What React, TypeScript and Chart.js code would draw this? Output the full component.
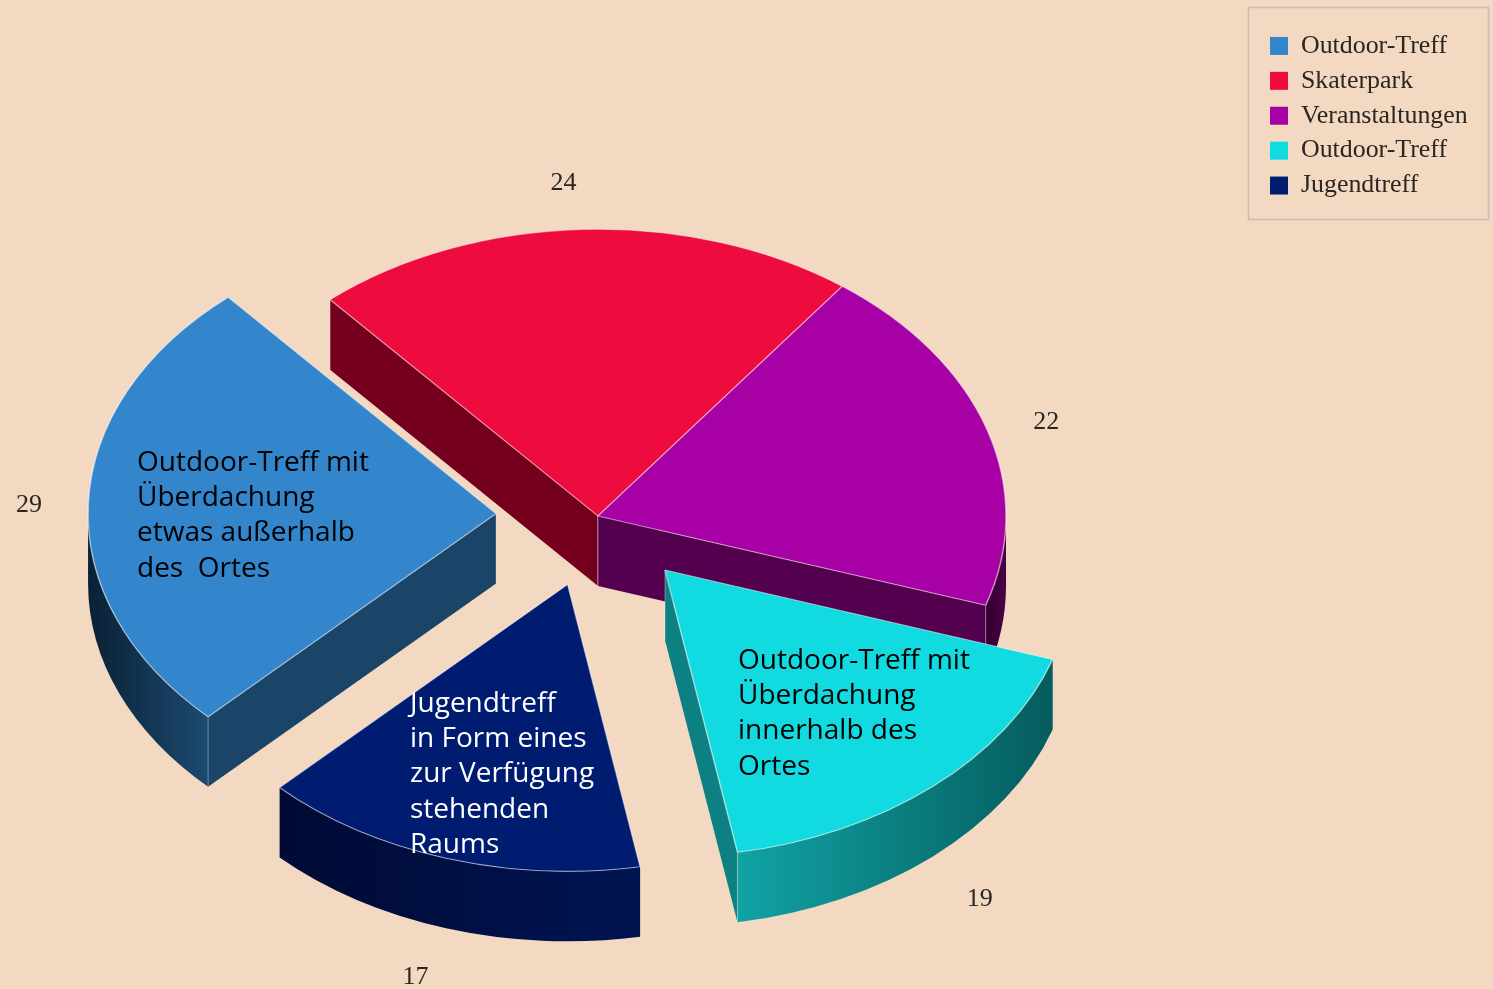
import React, { useEffect, useRef } from "react";
import { Chart, ArcElement, registerables } from "chart.js";

Chart.register(...registerables);

const categories = ["Outdoor-Treff", "Skaterpark", "Veranstaltungen", "Outdoor-Treff", "Jugendtreff"];
const values = [29, 24, 22, 19, 17];
const topColors = ["#3385cc", "#ee0c3e", "#a700a4", "#11dae0", "#001c70"];
const cutColors = ["#1a4468", "#75001d", "#53004f", "#0c8082", "#000f44"];
const wallLeft = ["#0a2135", "#75001d", "#33002f", "#11a3a5", "#000a35"];
const wallRight = ["#1b4a70", "#75001d", "#4b0048", "#055c5d", "#001452"];
const explode = [102, 0, 0, 102, 102];
const calloutBlue = ["Outdoor-Treff mit", "Überdachung", "etwas außerhalb", "des  Ortes"];
const calloutCyan = ["Outdoor-Treff mit", "Überdachung", "innerhalb des", "Ortes"];
const calloutNavy = ["Jugendtreff", "in Form eines", "zur Verfügung", "stehenden", "Raums"];

const W = 1493;
const H = 989;
const BG = "#f3d8c2";
const RADIUS = 408;
const K = 0.703;
const SCREEN_CY = 516;
const DEPTH = 70;
const INNER_FONT = '28px "Open Sans"';
const SERIF = '"Liberation Serif"';

const applyTilt = (chart: any, ctx: CanvasRenderingContext2D) => {
  const cy = (chart.chartArea.top + chart.chartArea.bottom) / 2;
  ctx.translate(0, SCREEN_CY);
  ctx.scale(1, K);
  ctx.translate(0, -cy);
};

const pie3d = {
  id: "pie3d",
  afterDatasetsUpdate(chart: any) {
    // pull exploded slices out along their mid-angle without altering their radius
    chart.getDatasetMeta(0).data.forEach((arc: any, i: number) => {
      arc.draw = function (ctx: CanvasRenderingContext2D) {
        const half = (this.startAngle + this.endAngle) / 2;
        ctx.save();
        ctx.translate(Math.cos(half) * explode[i], Math.sin(half) * explode[i]);
        ArcElement.prototype.draw.call(this, ctx);
        ctx.restore();
      };
    });
  },
  beforeDraw(chart: any) {
    const lg = chart.legend;
    lg.left = 1261;
    lg.top = 24;
    lg.right = W;
    lg.bottom = 219;
  },
  beforeDatasetsDraw(chart: any) {
    const ctx: CanvasRenderingContext2D = chart.ctx;
    ctx.save();
    applyTilt(chart, ctx);
    const d = DEPTH / K;
    const arcs = chart.getDatasetMeta(0).data;
    const order = [1, 2, 0, 4, 3];
    for (const i of order) {
      const a = arcs[i];
      const half = (a.startAngle + a.endAngle) / 2;
      const ox = a.x + Math.cos(half) * explode[i];
      const oy = a.y + Math.sin(half) * explode[i];
      const edges: [number, boolean][] = [
        [a.startAngle, Math.cos(a.startAngle) < 0],
        [a.endAngle, Math.cos(a.endAngle) > 0],
      ];
      for (const [ang, visible] of edges) {
        if (!visible) continue;
        const rx = ox + Math.cos(ang) * RADIUS;
        const ry = oy + Math.sin(ang) * RADIUS;
        ctx.beginPath();
        ctx.moveTo(ox, oy);
        ctx.lineTo(rx, ry);
        ctx.lineTo(rx, ry + d);
        ctx.lineTo(ox, oy + d);
        ctx.closePath();
        ctx.fillStyle = cutColors[i];
        ctx.fill();
      }
      // outer rim: only the part of the arc facing the viewer
      const twoPi = Math.PI * 2;
      let s = a.startAngle;
      let e = a.endAngle;
      while (s < -1e-6 && e < -1e-6) { s += twoPi; e += twoPi; }
      const from = Math.max(s, 0);
      const to = Math.min(e, Math.PI);
      if (to > from) {
        const x0 = ox + Math.cos(from) * RADIUS;
        const x1 = ox + Math.cos(to) * RADIUS;
        const g = ctx.createLinearGradient(Math.min(x0, x1), 0, Math.max(x0, x1), 0);
        g.addColorStop(0, wallLeft[i]);
        g.addColorStop(1, wallRight[i]);
        ctx.beginPath();
        ctx.arc(ox, oy, RADIUS, from, to);
        ctx.arc(ox, oy + d, RADIUS, to, from, true);
        ctx.closePath();
        ctx.fillStyle = g;
        ctx.fill();
      }
      for (const [ang, visible] of edges) {
        if (!visible) continue;
        ctx.beginPath();
        for (const [px, py] of [
          [ox + Math.cos(ang) * RADIUS, oy + Math.sin(ang) * RADIUS],
          [ox, oy],
        ]) {
          ctx.moveTo(px, py);
          ctx.lineTo(px, py + d);
        }
        ctx.strokeStyle = "rgba(255,255,255,0.28)";
        ctx.lineWidth = 1.2;
        ctx.stroke();
      }
    }
  },
  afterDatasetsDraw(chart: any) {
    chart.ctx.restore();
  },
  afterDraw(chart: any) {
    const ctx: CanvasRenderingContext2D = chart.ctx;
    ctx.save();
    // legend frame
    ctx.strokeStyle = "#c8bdb3";
    ctx.lineWidth = 1.5;
    ctx.strokeRect(1248.5, 7.5, 240, 212);
    // value labels outside each slice
    const cy = (chart.chartArea.top + chart.chartArea.bottom) / 2;
    const nudge = [[6, 3], [-17, 0], [-3, 6], [4, 8], [-11, 5]];
    ctx.font = `26px ${SERIF}`;
    ctx.fillStyle = "#2b2622";
    ctx.textAlign = "center";
    ctx.textBaseline = "middle";
    chart.getDatasetMeta(0).data.forEach((a: any, i: number) => {
      const half = (a.startAngle + a.endAngle) / 2;
      const ox = a.x + Math.cos(half) * explode[i];
      const oy = a.y + Math.sin(half) * explode[i];
      const r = RADIUS * 1.16;
      const x = ox + Math.cos(half) * r;
      const y = SCREEN_CY + K * (oy + Math.sin(half) * r - cy) + (Math.sin(half) > 0.5 ? DEPTH : 0);
      ctx.fillText(String(values[i]), x + nudge[i][0], y + nudge[i][1]);
    });
    // callouts inside the slices
    ctx.font = INNER_FONT;
    ctx.textAlign = "left";
    ctx.textBaseline = "alphabetic";
    const callouts: [string[], number, number, string][] = [
      [calloutBlue, 137, 471, "#000"],
      [calloutCyan, 738, 669, "#000"],
      [calloutNavy, 410, 712, "#fff"],
    ];
    for (const [lines, x, y, col] of callouts) {
      ctx.fillStyle = col;
      lines.forEach((t, n) => ctx.fillText(t, x, y + n * 35.2));
    }
    ctx.restore();
  },
};

export default function App() {
  const ref = useRef<HTMLCanvasElement>(null);
  useEffect(() => {
    const chart = new Chart(ref.current as HTMLCanvasElement, {
      type: "pie",
      data: {
        labels: categories,
        datasets: [
          {
            data: values,
            backgroundColor: topColors,
            borderColor: "rgba(255,255,255,0.5)",
            borderWidth: 1.5,
            clip: false,
          } as any,
        ],
      },
      options: {
        responsive: false,
        animation: false,
        events: [],
        rotation: -135.1,
        radius: RADIUS,
        layout: { padding: { left: 0, right: 297, top: 0, bottom: 0 } },
        plugins: {
          tooltip: { enabled: false },
          title: { display: false },
          legend: {
            position: "chartArea",
            align: "start",
            labels: {
              boxWidth: 18,
              boxHeight: 18,
              padding: 9,
              color: "#2b2622",
              font: { family: SERIF, size: 25.9, lineHeight: 1 },
              generateLabels: (c: any) =>
                (Chart as any).overrides.doughnut.plugins.legend.labels
                  .generateLabels(c)
                  .map((l: any) => ({ ...l, lineWidth: 0 })),
            },
          },
        },
      } as any,
      plugins: [pie3d as any],
    });
    return () => chart.destroy();
  }, []);
  return (
    <div style={{ position: "fixed", inset: 0, background: BG, overflow: "hidden" }}>
      <canvas ref={ref} width={W} height={H} style={{ display: "block", width: W, height: H }} />
    </div>
  );
}
